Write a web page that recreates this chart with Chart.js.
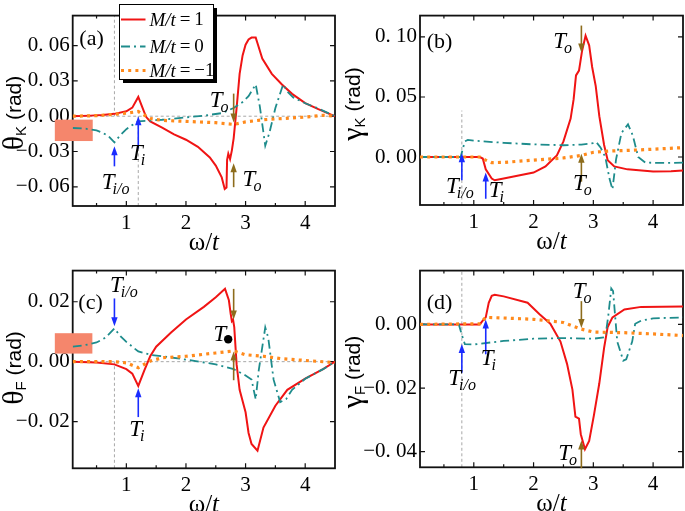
<!DOCTYPE html>
<html><head><meta charset="utf-8">
<script src="https://cdn.jsdelivr.net/npm/chart.js@4.4.1/dist/chart.umd.min.js"></script>
<style>
html,body{margin:0;padding:0;background:#fff;}
body{width:685px;height:511px;overflow:hidden;position:relative;}
canvas{position:absolute;}
</style></head>
<body>
<canvas id="ca"></canvas><canvas id="cb"></canvas><canvas id="cc"></canvas><canvas id="cd"></canvas>
<script>
// ---------- shared axis ticks ----------
const xTicks = [1, 2, 3, 4];
const xMinorTicks = [0.5, 1.5, 2.5, 3.5];
const seriesNames = ['M/t = 1', 'M/t = 0', 'M/t = \u22121'];

// ---------- panel (a): theta_K ----------
const aRedX = [0.1,0.4,0.6,0.8,1.0,1.1,1.2,1.27,1.33,1.4,1.6,1.8,2.0,2.2,2.4,2.5,2.6,2.65,2.68,2.69,2.71,2.74,2.77,2.8,2.85,2.9,2.95,3.0,3.05,3.1,3.17,3.2,3.28,3.44,3.61,3.78,4.0,4.22,4.5];
const aRedY = [0,0.0005,0.001,0.002,0.0042,0.0073,0.0164,0.0073,-0.0005,-0.0044,-0.0097,-0.0154,-0.020,-0.026,-0.035,-0.042,-0.052,-0.0618,-0.0605,-0.037,-0.0318,-0.0365,-0.029,-0.0188,0.0073,0.036,0.0517,0.0608,0.0652,0.0668,0.0668,0.062,0.049,0.036,0.0269,0.019,0.0112,0.006,0];
const aTealX = [0.1,0.3,0.5,0.6,0.7,0.8,0.9,1.0,1.1,1.2,1.4,1.6,2.0,2.3,2.6,2.8,2.95,3.05,3.17,3.24,3.33,3.4,3.5,3.63,3.7,3.8,4.0,4.2,4.5];
const aTealY = [-0.010,-0.0105,-0.012,-0.014,-0.017,-0.0222,-0.016,-0.011,-0.0075,-0.0044,-0.0037,-0.003,-0.001,0.0005,0.0026,0.007,0.012,0.017,0.027,0.008,-0.025,-0.014,0.007,0.027,0.021,0.016,0.011,0.007,0];
const aOrangeX = [0.1,0.5,0.8,1.0,1.2,1.3,1.4,1.6,2.0,2.5,2.8,3.0,3.3,3.6,4.0,4.3,4.5];
const aOrangeY = [0,0.0005,0.0016,0.0026,0.004,0.001,-0.002,-0.0035,-0.0044,-0.0055,-0.007,-0.0048,-0.003,-0.002,-0.0008,0.0008,0];
const aYTicks = [-0.06,-0.03,0,0.03,0.06];
const aArrows = [[0.8,-0.0426,-0.0256,'blue'],[1.2,-0.0274,0.0,'blue'],[2.8,0.0192,-0.0053,'brown'],[2.8,-0.0603,-0.040,'brown']];
const aTLabels = [[0.587,-0.0616,'i/o'],[1.06,-0.0374,'i'],[2.40,0.0079,'o'],[2.95,-0.0592,'o']];

// ---------- panel (b): gamma_K ----------
const bRedX = [0.1,1.1,1.15,1.2,1.3,1.35,1.5,1.75,2.0,2.2,2.3,2.39,2.5,2.62,2.67,2.71,2.76,2.81,2.87,2.93,2.98,3.04,3.1,3.18,3.24,3.35,3.57,4.0,4.3,4.5];
const bRedY = [0,0,-0.0013,-0.0103,-0.018,-0.0194,-0.018,-0.0155,-0.013,-0.0078,-0.003,0.0013,0.013,0.032,0.048,0.068,0.072,0.088,0.101,0.093,0.075,0.059,0.034,0.010,-0.0026,-0.0078,-0.0103,-0.012,-0.0118,-0.0113];
const bTealX = [0.1,0.78,0.85,0.9,1.0,1.5,2.0,2.5,2.8,3.0,3.05,3.12,3.2,3.27,3.32,3.38,3.47,3.58,3.66,3.75,3.87,4.2,4.5];
const bTealY = [0,0,0.013,0.0142,0.0136,0.0118,0.0105,0.0098,0.0103,0.0115,0.0124,0.008,0.0,-0.018,-0.027,-0.002,0.020,0.0272,0.018,0.0,-0.0047,-0.005,-0.0047];
const bOrangeX = [0.1,1.1,1.2,1.3,1.5,2.0,2.5,2.8,3.0,3.3,3.6,4.0,4.5];
const bOrangeY = [0,0,-0.0026,-0.0047,-0.0045,-0.0026,-0.0008,0.0013,0.0039,0.005,0.0055,0.0065,0.0078];
const bYTicks = [0,0.05,0.10];
const bArrows = [[0.8,-0.0193,0.0031,'blue'],[1.2,-0.0348,-0.0129,'blue'],[2.8,0.1095,0.0871,'brown'],[2.8,-0.0206,0.0026,'brown']];
const bTLabels = [[0.535,-0.0297,'i/o'],[1.25,-0.033,'i'],[2.33,0.0907,'o'],[2.66,-0.0271,'o']];

// ---------- panel (c): theta_F ----------
const cRedX = [0.1,0.5,0.8,1.0,1.1,1.2,1.3,1.4,1.5,1.75,2.0,2.3,2.5,2.655,2.72,2.75,2.77,2.79,2.81,2.85,2.9,3.0,3.05,3.1,3.2,3.3,3.5,3.7,4.0,4.3,4.5];
const cRedY = [0,-0.0003,-0.0009,-0.0025,-0.004,-0.0081,-0.003,0.0018,0.005,0.0097,0.0141,0.0183,0.0215,0.0243,0.0205,0.016,0.0135,0.014,0.0115,-0.001,-0.0094,-0.0169,-0.0238,-0.0275,-0.0297,-0.022,-0.0147,-0.0094,-0.0057,-0.0025,0];
const cTealX = [0.1,0.3,0.5,0.65,0.8,0.9,1.0,1.2,1.4,1.6,2.0,2.5,2.8,3.0,3.1,3.17,3.22,3.33,3.38,3.47,3.58,3.68,3.78,4.0,4.3,4.5];
const cTealY = [0.005,0.0055,0.0064,0.008,0.0111,0.0085,0.0066,0.0034,0.0023,0.0018,0.0007,-0.0009,-0.0025,-0.0046,-0.006,-0.0126,-0.003,0.0114,0.008,-0.006,-0.0135,-0.0125,-0.0094,-0.0057,-0.0025,0];
const cOrangeX = [0.1,0.8,1.0,1.2,1.4,1.6,2.0,2.5,2.8,3.0,3.3,3.6,4.0,4.5];
const cOrangeY = [0,0,-0.0004,-0.002,0.0002,0.0013,0.0018,0.0029,0.0036,0.0023,0.0018,0.001,0.0004,-0.0003];
const cYTicks = [-0.02,0,0.02];
const cArrows = [[0.8,0.0211,0.0118,'blue'],[1.2,-0.0185,-0.0089,'blue'],[2.8,0.0243,0.0141,'brown'],[2.8,-0.0062,0.0034,'brown']];
const cTLabels = [[0.726,0.0232,'i/o'],[1.05,-0.0249,'i'],[2.46,0.0068,'dot']];

// ---------- panel (d): gamma_F ----------
const dRedX = [0.1,1.1,1.15,1.2,1.25,1.3,1.35,1.5,1.9,2.1,2.28,2.45,2.56,2.65,2.7,2.76,2.79,2.86,2.93,3.01,3.1,3.18,3.24,3.32,3.52,3.8,4.5];
const dRedY = [0,0,0.0012,0.0022,0.0068,0.009,0.0093,0.0088,0.0068,0.0032,0.0002,-0.0054,-0.0124,-0.0205,-0.029,-0.0296,-0.0345,-0.0392,-0.0366,-0.0285,-0.0185,-0.0074,-0.0008,0.0022,0.0047,0.0055,0.0056];
const dTealX = [0.1,0.75,0.8,0.85,1.0,1.5,2.0,2.5,3.0,3.2,3.25,3.3,3.33,3.4,3.5,3.55,3.65,3.7,3.8,4.0,4.5];
const dTealY = [0,0,-0.0033,-0.0062,-0.0063,-0.0052,-0.0045,-0.0043,-0.0045,-0.004,0.0027,0.0113,0.0105,-0.0054,-0.0114,-0.011,-0.0054,0.0002,0.0012,0.0019,0.0022];
const dOrangeX = [0.1,1.1,1.2,1.5,2.0,2.5,2.8,3.0,3.5,4.0,4.5];
const dOrangeY = [0,0.0002,0.0022,0.002,0.0016,0.0006,-0.0015,-0.0024,-0.0026,-0.003,-0.0035];
const dYTicks = [-0.04,-0.02,0];
const dArrows = [[0.8,-0.0152,-0.0062,'blue'],[1.2,-0.0094,0.0015,'blue'],[2.8,0.0073,-0.0011,'brown'],[2.8,-0.0452,-0.0365,'brown']];
const dTLabels = [[0.574,-0.019,'i/o'],[1.115,-0.0129,'i'],[2.655,0.0083,'o'],[2.414,-0.0427,'o']];

// ---------- styling ----------
const COL = {red:'#f01414', teal:'#1e8c8c', orange:'#ff8a1c', blue:'#1a2cff', brown:'#8d6c1c', grid:'#a8a8a8', box:'#f5866c'};
const SERIF = "'Liberation Serif'";
const SANS = "'Liberation Sans'";
const styles = [
  {color:COL.red, width:2, dash:[], cap:'butt'},
  {color:COL.teal, width:1.8, dash:[9,4,2,4], cap:'butt'},
  {color:COL.orange, width:3.2, dash:[3,4.2], cap:'butt'}
];

function fmtY(v){
  const s = Math.abs(v).toFixed(2).replace('.', '. ');
  return (v < -1e-9 ? '\u2212' : '') + s;
}

function drawArrow(ctx, x, y0, y1, color){
  const dir = Math.sign(y1 - y0);
  ctx.save();
  ctx.strokeStyle = color; ctx.fillStyle = color; ctx.lineWidth = 1.6;
  ctx.beginPath(); ctx.moveTo(x, y0); ctx.lineTo(x, y1 - dir*6); ctx.stroke();
  ctx.beginPath(); ctx.moveTo(x, y1); ctx.lineTo(x-3.2, y1 - dir*9); ctx.lineTo(x+3.2, y1 - dir*9); ctx.closePath(); ctx.fill();
  ctx.restore();
}

const decor = {
  id:'decor',
  beforeDatasetsDraw(chart){
    const p = chart.options.plugins.decor; const ctx = chart.ctx; const a = chart.chartArea;
    const xs = chart.scales.x, ys = chart.scales.y;
    const clampY = v => Math.max(a.top, Math.min(a.bottom, ys.getPixelForValue(v)));
    ctx.save();
    ctx.strokeStyle = COL.grid; ctx.lineWidth = 1; ctx.setLineDash([3,2.5]);
    p.vlines.forEach(([x, y0, y1]) => {
      const px = xs.getPixelForValue(x);
      ctx.beginPath(); ctx.moveTo(px, clampY(y0)); ctx.lineTo(px, clampY(y1)); ctx.stroke();
    });
    p.hlines.forEach(y => {
      const py = ys.getPixelForValue(y);
      ctx.beginPath(); ctx.moveTo(a.left, py); ctx.lineTo(a.right, py); ctx.stroke();
    });
    ctx.setLineDash([]);
    ctx.strokeStyle = '#111'; ctx.lineWidth = 1.8;
    ctx.strokeRect(a.left, a.top, a.right - a.left, a.bottom - a.top);
    ctx.lineWidth = 1.2;
    const tk = (v, len) => {
      const px = xs.getPixelForValue(v);
      ctx.beginPath(); ctx.moveTo(px, a.bottom); ctx.lineTo(px, a.bottom - len);
      ctx.moveTo(px, a.top); ctx.lineTo(px, a.top + len); ctx.stroke();
    };
    xTicks.forEach(v => tk(v, 5)); xMinorTicks.forEach(v => tk(v, 3));
    p.yTicks.forEach(v => {
      const py = ys.getPixelForValue(v);
      ctx.beginPath(); ctx.moveTo(a.left, py); ctx.lineTo(a.left + 5, py);
      ctx.moveTo(a.right, py); ctx.lineTo(a.right - 5, py); ctx.stroke();
    });
    ctx.fillStyle = COL.box;
    p.boxes.forEach(([x0, x1, y0, y1]) => {
      const l = xs.getPixelForValue(x0), r = xs.getPixelForValue(x1);
      const t = ys.getPixelForValue(y1), b = ys.getPixelForValue(y0);
      ctx.fillRect(l, t, r - l, b - t);
    });
    ctx.restore();
  },
  afterDraw(chart){
    const p = chart.options.plugins.decor; const ctx = chart.ctx; const a = chart.chartArea;
    const xs = chart.scales.x, ys = chart.scales.y;
    ctx.save();
    p.arrows.forEach(([x, y0, y1, c]) => {
      drawArrow(ctx, xs.getPixelForValue(x), ys.getPixelForValue(y0), ys.getPixelForValue(y1), c === 'blue' ? COL.blue : COL.brown);
    });
    ctx.fillStyle = '#000'; ctx.textBaseline = 'alphabetic'; ctx.textAlign = 'left';
    p.tlabels.forEach(([x, y, sub]) => {
      const px = xs.getPixelForValue(x), py = ys.getPixelForValue(y);
      ctx.font = 'italic 23px ' + SERIF;
      ctx.fillText('T', px, py);
      const w = ctx.measureText('T').width;
      if (sub === 'dot') {
        ctx.beginPath(); ctx.arc(px + w + 2, py - 2, 4.2, 0, Math.PI*2); ctx.fill();
      } else {
        ctx.font = 'italic 16px ' + SERIF;
        ctx.fillText(sub, px + w - 2, py + 5);
      }
    });
    ctx.font = '22px ' + SERIF;
    ctx.fillText(p.tag, a.left + p.tagOff[0], a.top + p.tagOff[1]);
    ctx.textBaseline = 'middle';
    const cx = (a.left + a.right) / 2, cy = a.bottom + 37;
    ctx.font = '25px ' + SERIF; const w1 = ctx.measureText('\u03c9/').width;
    ctx.font = 'italic 25px ' + SERIF; const w2 = ctx.measureText('t').width;
    let sx = cx - (w1 + w2) / 2;
    ctx.font = '25px ' + SERIF; ctx.fillText('\u03c9/', sx, cy);
    ctx.font = 'italic 25px ' + SERIF; ctx.fillText('t', sx + w1, cy);
    ctx.save();
    ctx.translate(p.ytitle[0], p.ytitle[1]); ctx.rotate(-Math.PI/2);
    ctx.font = '30px ' + SERIF; const g1 = ctx.measureText(p.ysym).width;
    ctx.font = '15px ' + SANS; const g2 = ctx.measureText(p.ysub).width;
    ctx.font = '21px ' + SANS; const g3 = ctx.measureText(' (rad)').width;
    let tx = -(g1 + g2 + g3) / 2;
    ctx.textBaseline = 'middle';
    ctx.font = '30px ' + SERIF; ctx.fillText(p.ysym, tx, 0);
    ctx.font = '15px ' + SANS; ctx.fillText(p.ysub, tx + g1, 7);
    ctx.font = '21px ' + SANS; ctx.fillText(' (rad)', tx + g1 + g2, 0);
    ctx.restore();
    if (p.legend) {
      const L = p.legend;
      ctx.fillStyle = '#000';
      ctx.fillRect(L.x + 3.5, L.y + 3.5, L.w, L.h);
      ctx.fillStyle = '#fff'; ctx.fillRect(L.x, L.y, L.w, L.h);
      ctx.strokeStyle = '#000'; ctx.lineWidth = 1; ctx.strokeRect(L.x, L.y, L.w, L.h);
      seriesNames.forEach((name, i) => {
        const st = styles[i]; const ly = L.y + L.rows[i];
        ctx.strokeStyle = st.color; ctx.lineWidth = st.width; ctx.setLineDash(st.dash);
        ctx.beginPath(); ctx.moveTo(L.x + 1.5, ly); ctx.lineTo(L.x + 26, ly); ctx.stroke();
        ctx.setLineDash([]);
        ctx.fillStyle = '#000'; ctx.textBaseline = 'middle';
        ctx.font = 'italic 19px ' + SERIF;
        const head = 'M/t'; ctx.fillText(head, L.x + 30, ly + 1);
        const hw = ctx.measureText(head).width;
        ctx.font = '19px ' + SERIF;
        ctx.fillText(name.slice(3).replace(/ /g, '\u2009'), L.x + 30 + hw, ly + 1);
      });
    }
    ctx.restore();
  }
};

function makePanel(p){
  const cv = document.getElementById(p.id);
  cv.style.left = p.left + 'px'; cv.style.top = p.top + 'px';
  cv.width = p.w; cv.height = p.h;
  cv.style.width = p.w + 'px'; cv.style.height = p.h + 'px';
  const datasets = p.series.map((s, i) => ({
    data: s[0].map((x, k) => ({x: x, y: s[1][k]})),
    borderColor: styles[i].color, borderWidth: styles[i].width,
    borderDash: styles[i].dash, borderCapStyle: styles[i].cap,
    pointRadius: 0, tension: 0, fill: false
  }));
  new Chart(cv, {
    type: 'line',
    data: {datasets: datasets.reverse()},
    options: {
      responsive: false, animation: false, events: [], devicePixelRatio: 1,
      layout: {padding: {left: 0, top: p.area.t, right: p.w - p.area.r, bottom: 0}},
      plugins: {legend: {display: false}, tooltip: {enabled: false}, decor: p.decor},
      scales: {
        x: {type: 'linear', min: 0.1, max: 4.5,
            grid: {display: false, drawTicks: false}, border: {display: false},
            ticks: {color: '#000', font: {family: SERIF, size: 21}, padding: 5, maxRotation: 0, autoSkip: false},
            afterBuildTicks: sc => { sc.ticks = xTicks.map(v => ({value: v})); },
            afterFit: sc => { sc.height = p.h - p.area.b; }},
        y: {type: 'linear', min: p.ymin, max: p.ymax,
            grid: {display: false, drawTicks: false}, border: {display: false},
            ticks: {color: '#000', font: {family: SERIF, size: 21}, padding: 3, callback: v => fmtY(v), autoSkip: false},
            afterBuildTicks: sc => { sc.ticks = p.decor.yTicks.map(v => ({value: v})); },
            afterFit: sc => { sc.width = p.area.l; }}
      }
    },
    plugins: [decor]
  });
}

makePanel({id:'ca', left:0, top:0, w:342, h:255, area:{l:72.7, t:1, r:335, b:206}, ymin:-0.0763, ymax:0.0855,
  series:[[aRedX,aRedY],[aTealX,aTealY],[aOrangeX,aOrangeY]],
  decor:{yTicks:aYTicks, arrows:aArrows, tlabels:aTLabels, vlines:[[0.8,0,1],[1.2,-1,0]], hlines:[0],
    boxes:[[-0.2,0.436,-0.0211,-0.0029]], tag:'(a)', tagOff:[6.6,29], ysym:'\u03b8', ysub:'K', ytitle:[15,113],
    legend:{x:119.5, y:4.5, w:94, h:75, rows:[15,42,66]}}});
makePanel({id:'cb', left:342, top:0, w:343, h:255, area:{l:78, t:1, r:341, b:205}, ymin:-0.040, ymax:0.1178,
  series:[[bRedX,bRedY],[bTealX,bTealY],[bOrangeX,bOrangeY]],
  decor:{yTicks:bYTicks, arrows:bArrows, tlabels:bTLabels, vlines:[[0.8,-1,0.0387]], hlines:[],
    boxes:[], tag:'(b)', tagOff:[6.7,32], ysym:'\u03b3', ysub:'K', ytitle:[12,104]}});
makePanel({id:'cc', left:0, top:255, w:342, h:256, area:{l:72.7, t:7.7, r:335, b:213.3}, ymin:-0.0356, ymax:0.0304,
  series:[[cRedX,cRedY],[cTealX,cTealY],[cOrangeX,cOrangeY]],
  decor:{yTicks:cYTicks, arrows:cArrows, tlabels:cTLabels, vlines:[[0.8,-1,0]], hlines:[0],
    boxes:[[-0.2,0.43,0.0027,0.0095]], tag:'(c)', tagOff:[5.6,38], ysym:'\u03b8', ysub:'F', ytitle:[15,113]}});
makePanel({id:'cd', left:342, top:255, w:343, h:256, area:{l:78, t:8.3, r:341, b:212.3}, ymin:-0.0449, ymax:0.0169,
  series:[[dRedX,dRedY],[dTealX,dTealY],[dOrangeX,dOrangeY]],
  decor:{yTicks:dYTicks, arrows:dArrows, tlabels:dTLabels, vlines:[[0.8,-1,1]], hlines:[],
    boxes:[], tag:'(d)', tagOff:[6.7,38], ysym:'\u03b3', ysub:'F', ytitle:[12,117]}});
</script>
</body></html>
